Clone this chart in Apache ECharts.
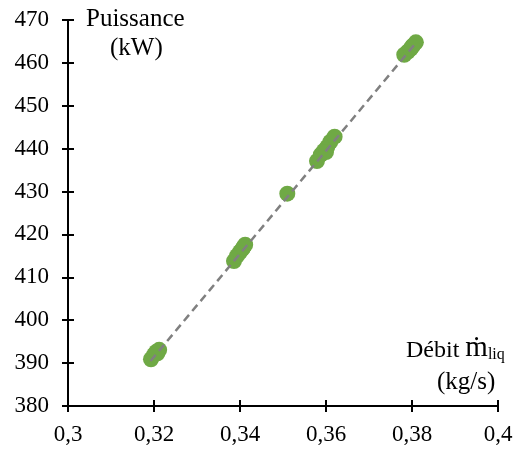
<!DOCTYPE html>
<html><head><meta charset="utf-8">
<script src="https://cdn.jsdelivr.net/npm/echarts@6/dist/echarts.min.js"></script>
<style>html,body{margin:0;padding:0;background:#fff}#c{width:523px;height:450px}</style>
</head><body><div id="c"></div>
<script>
const debit = [0.3193,0.3200,0.3205,0.3212,0.3208,
  0.3386,0.3393,0.3400,0.3406,0.3412,0.3408,
  0.3510,
  0.3579,0.3588,0.3595,0.3603,0.3610,0.3620,0.3600,
  0.3782,0.3790,0.3797,0.3803,0.3809,0.3800];
const puissance = [390.9,391.9,392.6,393.1,392.3,
  413.8,415.0,415.9,416.7,417.6,417.0,
  429.5,
  437.1,438.6,439.5,440.4,441.6,442.8,439.2,
  461.9,462.6,463.3,464.1,464.8,463.8];
const trendX = [0.3192, 0.3808];
const trendY = [390.5, 464.5];
const xTicks = {min:0.3, max:0.4, interval:0.02};
const yTicks = {min:380, max:470, interval:10};

const font = 'Liberation Serif';
const chart = echarts.init(document.getElementById('c'));
const axLine = {show:true, lineStyle:{color:'#000', width:2}};
const fmtX = v => String(+v.toFixed(2)).replace('.', ',');
chart.setOption({
  animation:false,
  grid:{left:68, right:25, top:20, bottom:44},
  xAxis:[
    {type:'value', min:xTicks.min, max:xTicks.max, interval:xTicks.interval,
     axisLine:axLine, axisTick:{show:true, length:6, lineStyle:{color:'#000', width:2}},
     splitLine:{show:false},
     axisLabel:{formatter:fmtX, fontFamily:font, fontSize:23, color:'#000', margin:17}},
    {type:'value', position:'bottom', min:xTicks.min, max:xTicks.max, interval:xTicks.interval,
     axisLine:{show:false}, axisTick:{show:true, inside:true, length:6, lineStyle:{color:'#000', width:2}},
     splitLine:{show:false}, axisLabel:{show:false}}
  ],
  yAxis:[
    {type:'value', min:yTicks.min, max:yTicks.max, interval:yTicks.interval,
     axisLine:axLine, axisTick:{show:true, length:6, lineStyle:{color:'#000', width:2}},
     splitLine:{show:false},
     axisLabel:{fontFamily:font, fontSize:23, color:'#000', margin:19}},
    {type:'value', position:'left', min:yTicks.min, max:yTicks.max, interval:yTicks.interval,
     axisLine:{show:false}, axisTick:{show:true, inside:true, length:6, lineStyle:{color:'#000', width:2}},
     splitLine:{show:false}, axisLabel:{show:false}}
  ],
  series:[
    {type:'scatter', data:debit.map((x,i)=>[x, puissance[i]]), symbolSize:16,
     itemStyle:{color:'#6fa945', opacity:1}, z:2},
    {type:'line', data:trendX.map((x,i)=>[x, trendY[i]]), symbol:'none',
     lineStyle:{color:'#808080', width:2.5, type:[8,5]}, z:3}
  ],
  graphic:[
    {type:'text', left:86, top:7, style:{text:'Puissance', font:'25px "Liberation Serif"', fill:'#000'}},
    {type:'text', left:110, top:36, style:{text:'(kW)', font:'25px "Liberation Serif"', fill:'#000'}},
    {type:'text', left:406, top:334, style:{text:'{a|Débit }{m|ṁ}{s|liq}', rich:{
      a:{fontFamily:font, fontSize:24, color:'#000', verticalAlign:'bottom'},
      m:{fontFamily:font, fontSize:29, color:'#000', verticalAlign:'bottom'},
      s:{fontFamily:font, fontSize:16, color:'#000', verticalAlign:'bottom', padding:[10,0,0,0]}}}},
    {type:'text', left:437, top:370, style:{text:'(kg/s)', font:'25px "Liberation Serif"', fill:'#000'}}
  ]
});
</script></body></html>
